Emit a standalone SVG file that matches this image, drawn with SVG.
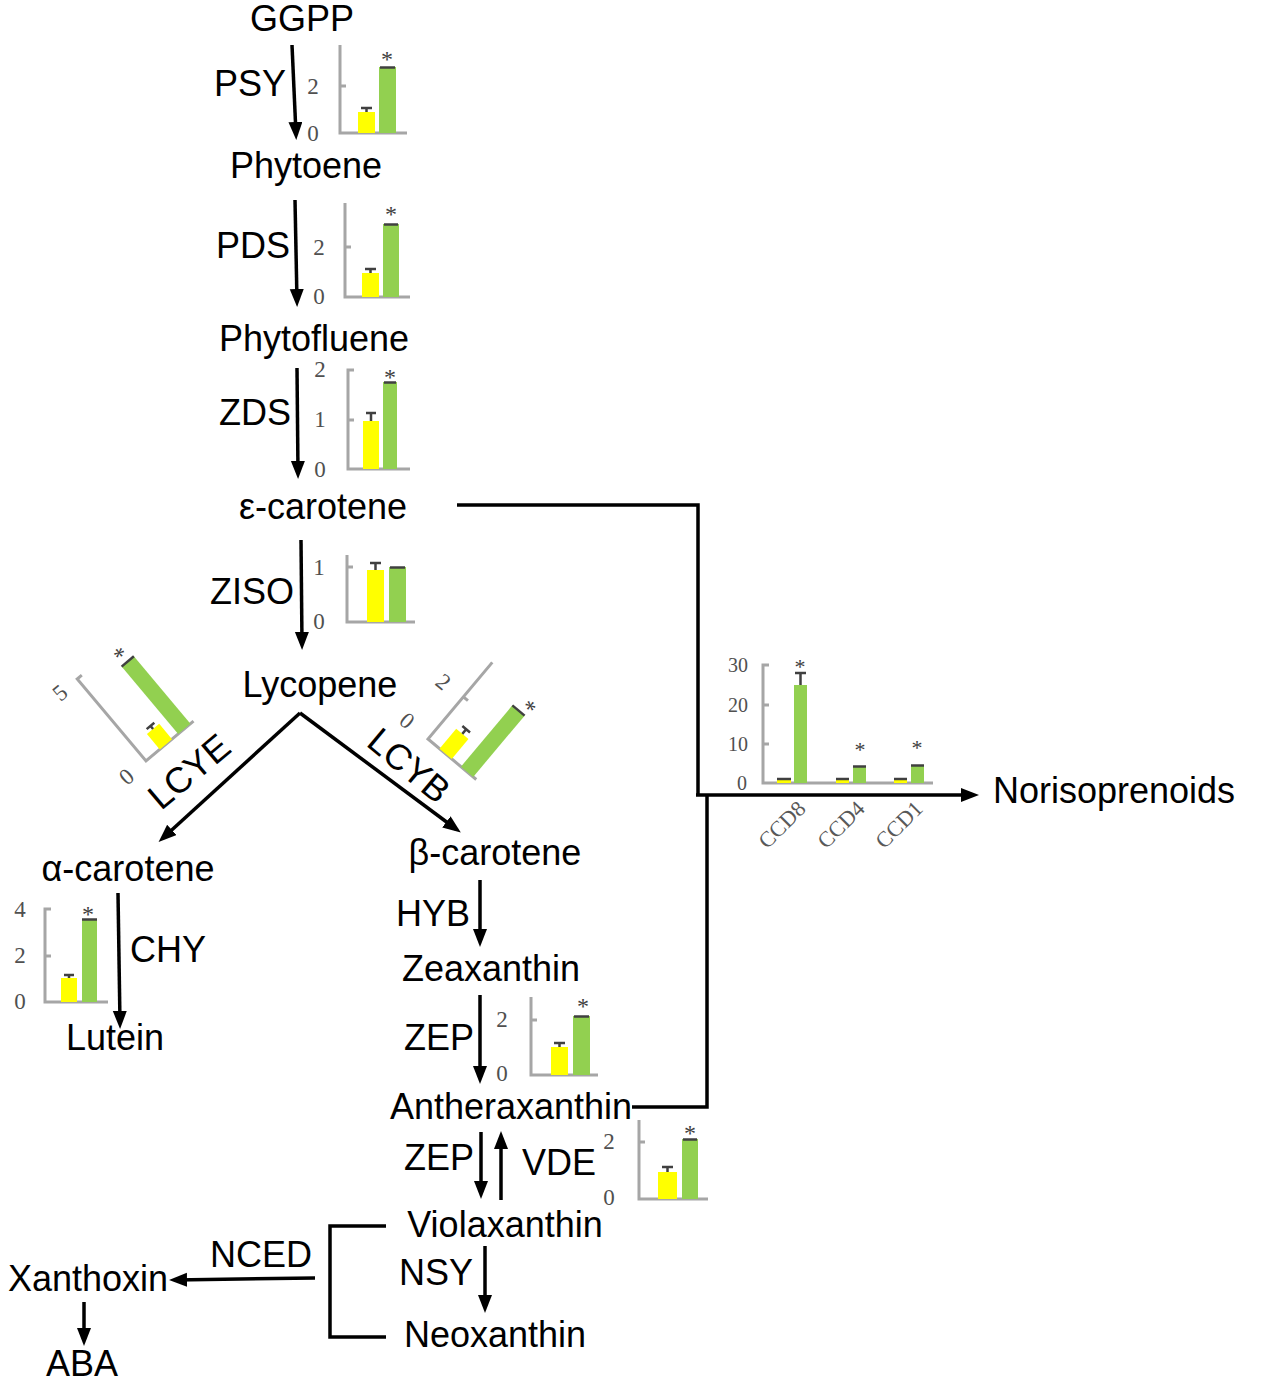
<svg xmlns="http://www.w3.org/2000/svg" width="1283" height="1384" viewBox="0 0 1283 1384">
<style>
.lbl{font-family:"Liberation Sans",Arial,sans-serif;font-size:36px;fill:#000}
.mid{text-anchor:middle}
.ax{stroke:#a6a6a6;stroke-width:3;fill:none}
.num{font-family:"Liberation Serif","Times New Roman",serif;font-size:23px;fill:#505050;text-anchor:middle}
.cat{font-family:"Liberation Serif","Times New Roman",serif;font-size:22px;fill:#595959;text-anchor:end}
.y{fill:#ffff00}
.g{fill:#92d050}
.err{stroke:#404040;stroke-width:2.5;fill:none}
.ast{font-family:"Liberation Serif","Times New Roman",serif;font-size:24px;fill:#404040;text-anchor:middle}
.con{stroke:#000;stroke-width:3.5;fill:none}
.arr{stroke:#000;stroke-width:3.5;fill:none;marker-end:url(#ah)}
</style>
<defs>
<marker id="ah" markerUnits="userSpaceOnUse" markerWidth="20" markerHeight="16" refX="12" refY="7" orient="auto">
<path d="M0,0 L18,7 L0,14 z" fill="#000"/>
</marker>
</defs>
<rect width="1283" height="1384" fill="#fff"/>

<g id="connectors">
<line class="arr" x1="292" y1="45" x2="296" y2="134"/>
<line class="arr" x1="295" y1="200" x2="297" y2="301"/>
<line class="arr" x1="297" y1="368" x2="298" y2="473"/>
<line class="arr" x1="301" y1="540" x2="302" y2="644"/>
<line class="arr" x1="300" y1="713" x2="163" y2="838"/>
<line class="arr" x1="300" y1="713" x2="456" y2="829"/>
<line class="arr" x1="118" y1="893" x2="120" y2="1023"/>
<line class="arr" x1="480" y1="880" x2="480" y2="941"/>
<line class="arr" x1="480" y1="995" x2="480" y2="1078"/>
<line class="arr" x1="481" y1="1132" x2="481" y2="1193"/>
<line class="arr" x1="501" y1="1200" x2="501" y2="1137"/>
<line class="arr" x1="485" y1="1246" x2="485" y2="1307"/>
<line class="arr" x1="315" y1="1278" x2="175" y2="1280"/>
<line class="arr" x1="84" y1="1302" x2="84" y2="1340"/>
<polyline class="con" points="386,1226 330,1226 330,1337 386,1337"/>
<polyline class="con" points="457,505 698,505 698,795"/>
<polyline class="con" points="632,1107 707,1107 707,795"/>
<line class="arr" x1="696" y1="795" x2="973" y2="795"/>
</g>

<g id="GGPP"><text class="lbl mid" x="302" y="31">GGPP</text></g>
<g id="PSY"><text class="lbl" x="214" y="96">PSY</text></g>
<g id="Phytoene"><text class="lbl mid" x="306" y="178">Phytoene</text></g>
<g id="PDS"><text class="lbl" x="216" y="258">PDS</text></g>
<g id="Phytofluene"><text class="lbl mid" x="314" y="351">Phytofluene</text></g>
<g id="ZDS"><text class="lbl" x="219" y="425">ZDS</text></g>
<g id="e-carotene"><text class="lbl mid" x="323" y="519">ε-carotene</text></g>
<g id="ZISO"><text class="lbl" x="210" y="604">ZISO</text></g>
<g id="Lycopene"><text class="lbl mid" x="320" y="697">Lycopene</text></g>
<g id="LCYE"><text class="lbl mid" transform="translate(197,781) rotate(-40)">LCYE</text></g>
<g id="LCYB"><text class="lbl mid" transform="translate(401,775) rotate(40)">LCYB</text></g>
<g id="a-carotene"><text class="lbl mid" x="128" y="881">α-carotene</text></g>
<g id="b-carotene"><text class="lbl mid" x="495" y="865">β-carotene</text></g>
<g id="CHY"><text class="lbl" x="130" y="962">CHY</text></g>
<g id="Lutein"><text class="lbl mid" x="115" y="1050">Lutein</text></g>
<g id="HYB"><text class="lbl" x="396" y="926">HYB</text></g>
<g id="Zeaxanthin"><text class="lbl mid" x="491" y="981">Zeaxanthin</text></g>
<g id="ZEP1"><text class="lbl" x="404" y="1050">ZEP</text></g>
<g id="Antheraxanthin"><text class="lbl mid" x="511" y="1119">Antheraxanthin</text></g>
<g id="ZEP2"><text class="lbl" x="404" y="1170">ZEP</text></g>
<g id="VDE"><text class="lbl" x="522" y="1175">VDE</text></g>
<g id="Violaxanthin"><text class="lbl mid" x="505" y="1237">Violaxanthin</text></g>
<g id="NSY"><text class="lbl" x="399" y="1285">NSY</text></g>
<g id="Neoxanthin"><text class="lbl mid" x="495" y="1347">Neoxanthin</text></g>
<g id="NCED"><text class="lbl" x="210" y="1267">NCED</text></g>
<g id="Xanthoxin"><text class="lbl mid" x="88" y="1291">Xanthoxin</text></g>
<g id="ABA"><text class="lbl mid" x="82" y="1376">ABA</text></g>
<g id="Norisoprenoids"><text class="lbl" x="993" y="803">Norisoprenoids</text></g>

<g id="chart-PSY">
<path class="ax" d="M340,45 V133 H407 M340,86 h6"/>
<text class="num" x="313" y="94">2</text><text class="num" x="313" y="141">0</text>
<rect class="y" x="358" y="112" width="17" height="21"/>
<path class="err" d="M366.5,112 V108 M361,108 h11"/>
<rect class="g" x="379" y="67" width="17" height="66"/>
<path class="err" d="M380,67.5 h15"/>
<text class="ast" x="387" y="67">*</text>
</g>

<g id="chart-PDS">
<path class="ax" d="M345,203 V297 H410 M345,247 h6"/>
<text class="num" x="319" y="255">2</text><text class="num" x="319" y="304">0</text>
<rect class="y" x="362" y="273" width="17" height="24"/>
<path class="err" d="M370.5,273 V269 M365,269 h11"/>
<rect class="g" x="383" y="224" width="16" height="73"/>
<path class="err" d="M384,224.5 h14"/>
<text class="ast" x="391" y="222">*</text>
</g>

<g id="chart-ZDS">
<path class="ax" d="M354,370 h-6 V469 H410 M348,420 h6"/>
<text class="num" x="320" y="377">2</text><text class="num" x="320" y="427">1</text><text class="num" x="320" y="477">0</text>
<rect class="y" x="363" y="421" width="16" height="48"/>
<path class="err" d="M371,421 V413 M366,413 h10"/>
<rect class="g" x="383" y="382" width="14" height="87"/>
<path class="err" d="M384,382.5 h12"/>
<text class="ast" x="390" y="385">*</text>
</g>

<g id="chart-ZISO">
<path class="ax" d="M347,555 V622 H415 M347,567 h6"/>
<text class="num" x="319" y="575">1</text><text class="num" x="319" y="629">0</text>
<rect class="y" x="367" y="570" width="17" height="52"/>
<path class="err" d="M375.5,570 V563 M370,563 h11"/>
<rect class="g" x="389" y="567" width="17" height="55"/>
<path class="err" d="M390,567.5 h15"/>
</g>

<g id="chart-LCYE" transform="translate(146,761) rotate(-40)">
<path class="ax" d="M6,-107 h-6 V0 H62"/>
<text class="num" x="-22" y="-100">5</text><text class="num" x="-25" y="7">0</text>
<rect class="y" x="18" y="-20" width="16" height="20"/>
<path class="err" d="M26,-20 V-24 M21,-24 h10"/>
<rect class="g" x="42" y="-88" width="16" height="88"/>
<path class="err" d="M42,-88 h16"/>
<text class="ast" x="49" y="-89">*</text>
</g>

<g id="chart-LCYB" transform="translate(428,739) rotate(40)">
<path class="ax" d="M0,-100 V0 H63 M0,-55 h6"/>
<text class="num" x="-25" y="-46">2</text><text class="num" x="-28" y="7">0</text>
<rect class="y" x="15" y="-26" width="16" height="26"/>
<path class="err" d="M23,-26 V-32 M18,-32 h10"/>
<rect class="g" x="43" y="-80" width="16" height="80"/>
<path class="err" d="M43,-80 h16"/>
<text class="ast" x="57" y="-80">*</text>
</g>

<g id="chart-CHY">
<path class="ax" d="M51,909 h-6 V1002 H108 M45,956 h6"/>
<text class="num" x="20" y="917">4</text><text class="num" x="20" y="963">2</text><text class="num" x="20" y="1009">0</text>
<rect class="y" x="61" y="978" width="16" height="24"/>
<path class="err" d="M69,978 V975 M64,975 h10"/>
<rect class="g" x="82" y="919" width="15" height="83"/>
<path class="err" d="M82,919.5 h15"/>
<text class="ast" x="88" y="922">*</text>
</g>

<g id="chart-ZEP">
<path class="ax" d="M531,997 V1075 H598 M531,1020 h6"/>
<text class="num" x="502" y="1027">2</text><text class="num" x="502" y="1081">0</text>
<rect class="y" x="551" y="1047" width="17" height="28"/>
<path class="err" d="M559.5,1047 V1043 M554,1043 h11"/>
<rect class="g" x="573" y="1016" width="17" height="59"/>
<path class="err" d="M574,1016.5 h15"/>
<text class="ast" x="583" y="1014">*</text>
</g>

<g id="chart-VDE">
<path class="ax" d="M639,1120 V1199 H708 M639,1142 h6"/>
<text class="num" x="609" y="1149">2</text><text class="num" x="609" y="1205">0</text>
<rect class="y" x="658" y="1172" width="19" height="27"/>
<path class="err" d="M667.5,1172 V1167 M662,1167 h11"/>
<rect class="g" x="682" y="1139" width="16" height="60"/>
<path class="err" d="M683,1139.5 h14"/>
<text class="ast" x="690" y="1141">*</text>
</g>

<g id="chart-CCD">
<path class="ax" d="M769,665 h-6 V783 H933 M763,705 h6 M763,744 h6"/>
<text class="num" x="738" y="672" style="font-size:20px">30</text>
<text class="num" x="738" y="712" style="font-size:20px">20</text>
<text class="num" x="738" y="751" style="font-size:20px">10</text>
<text class="num" x="742" y="790" style="font-size:20px">0</text>
<rect class="y" x="777" y="779" width="14" height="4"/>
<path class="err" d="M777,779 h14"/>
<rect class="g" x="794" y="685" width="13" height="98"/>
<path class="err" d="M800.5,685 V673 M795,673 h11"/>
<rect class="y" x="836" y="779" width="13" height="4"/>
<path class="err" d="M836,779 h13"/>
<rect class="g" x="853" y="766" width="13" height="17"/>
<path class="err" d="M853,766.5 h13"/>
<rect class="y" x="894" y="779" width="13" height="4"/>
<path class="err" d="M894,779 h13"/>
<rect class="g" x="911" y="765" width="13" height="18"/>
<path class="err" d="M911,765.5 h13"/>
<text class="ast" x="800" y="674" style="font-size:22px">*</text>
<text class="ast" x="860" y="757" style="font-size:22px">*</text>
<text class="ast" x="917" y="755" style="font-size:22px">*</text>
<text class="cat" transform="translate(807,810) rotate(-45)">CCD8</text>
<text class="cat" transform="translate(866,810) rotate(-45)">CCD4</text>
<text class="cat" transform="translate(924,810) rotate(-45)">CCD1</text>
</g>
</svg>
